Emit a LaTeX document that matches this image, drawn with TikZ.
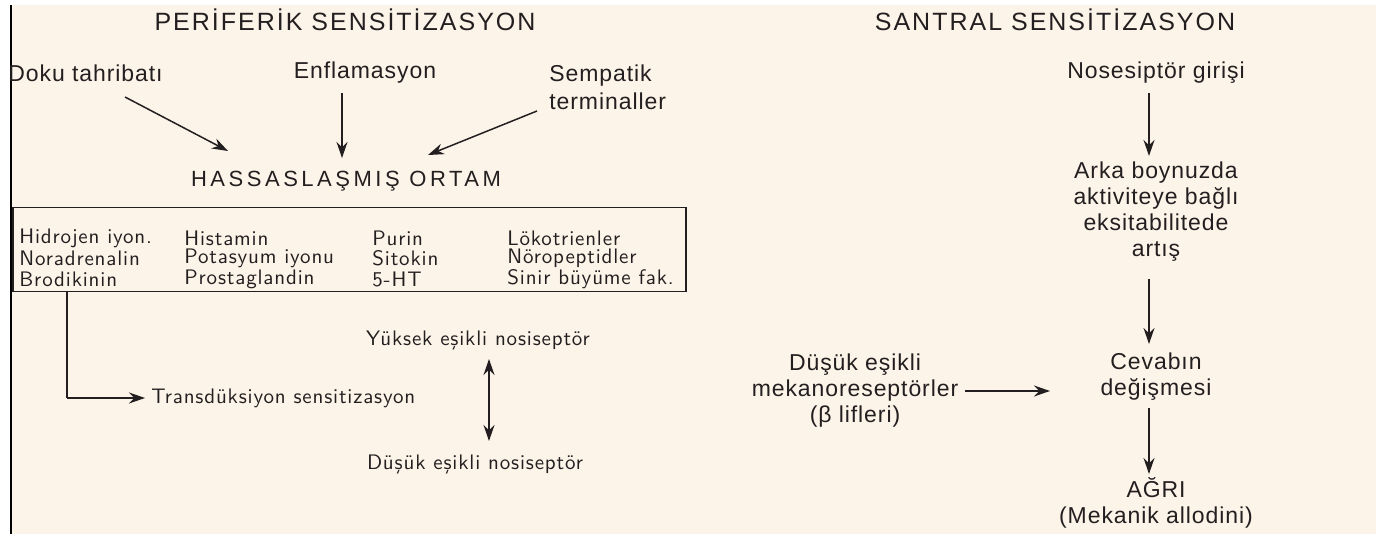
\documentclass[tikz,border=0pt]{standalone}
\usepackage{fontspec}
\usetikzlibrary{arrows.meta}
\setmainfont{Liberation Sans}
\newfontfamily\headfont[LetterSpace=8]{Liberation Sans}
\newfontfamily\hassfont[LetterSpace=16]{Liberation Sans}
\newfontfamily\txtfont[LetterSpace=4]{Liberation Sans}
\newfontfamily\smallfont[LetterSpace=4]{lmsans10-regular.otf}
\definecolor{cream}{RGB}{253,244,233}
\definecolor{ink}{RGB}{35,31,32}
\tikzset{
  head/.style={font=\headfont\fontsize{12.5}{14}\selectfont, text=ink, inner sep=0pt},
  hass/.style={font=\hassfont\fontsize{11}{13}\selectfont, text=ink, inner sep=0pt},
  lbl/.style={font=\txtfont\fontsize{11.5}{13}\selectfont, text=ink, inner sep=0pt, align=center},
  sm/.style={font=\smallfont\fontsize{10.5}{12}\selectfont, text=ink, inner sep=0pt, anchor=west},
  arr/.style={draw=ink, line width=0.75pt, -{Stealth[length=8pt,width=5.5pt]}},
  darr/.style={draw=ink, line width=0.75pt, {Stealth[length=8pt,width=5.5pt]}-{Stealth[length=8pt,width=5.5pt]}},
  ln/.style={draw=ink, line width=0.75pt}
}
\begin{document}
\begin{tikzpicture}[x=0.5pt,y=-0.5pt]
\useasboundingbox (0,0) rectangle (1376,534);
\fill[white] (0,0) rectangle (1376,534);
\fill[cream] (12,5) rectangle (1376,534);
\draw[black, line width=1pt] (11,5) -- (11,534);
% titles
\node[head] (t1) at (345,20) {PERİFERİK SENSİTİZASYON};
\node[head] (t2) at (1055,20) {SANTRAL SENSİTİZASYON};
% top left labels
\node[lbl, anchor=west] (doku) at (8,73) {Doku tahribatı};
\node[lbl] (enf) at (365,73) {Enflamasyon};
\node[lbl, align=left, anchor=north west] (semp) at (549,64) {Sempatik\\[1pt]terminaller};
\node[hass] (hass) at (346,181) {HASSASLAŞMIŞ ORTAM};
\coordinate (d1) at (125,97); \coordinate (d2) at (228,151);
\coordinate (e1) at (342,93); \coordinate (e2) at (342,158);
\coordinate (s1) at (537,111); \coordinate (s2) at (428,155);
\draw[arr] (d1) -- (d2);
\draw[arr] (e1) -- (e2);
\draw[arr] (s1) -- (s2);
% box
\node[draw=ink, line width=0.75pt, minimum width=673*0.5pt, minimum height=84*0.5pt, anchor=north west, inner sep=0pt] (box) at (12,207) {};
\node[sm] (c11) at (19,238) {Hidrojen iyon.};
\node[sm] (c12) at (19,258.5) {Noradrenalin};
\node[sm] (c13) at (19,279) {Brodikinin};
\node[sm] (c21) at (184,238) {Histamin};
\node[sm] (c22) at (184,258.5) {Potasyum iyonu};
\node[sm] (c23) at (184,279) {Prostaglandin};
\node[sm] (c31) at (372,238) {Purin};
\node[sm] (c32) at (372,258.5) {Sitokin};
\node[sm] (c33) at (372,279) {5-HT};
\node[sm] (c41) at (507,238) {Lökotrienler};
\node[sm] (c42) at (507,258.5) {Nöropeptidler};
\node[sm] (c43) at (507,279) {Sinir büyüme fak.};
% transduction
\node[sm] (trans) at (151,398) {Transdüksiyon sensitizasyon};
\coordinate (bx) at (67,291);
\coordinate (corner) at (67,398);
\draw[ln] (bx) -- (corner);
\draw[arr] (corner) -- ([xshift=-3pt]trans.west);
\node[sm, anchor=center] (yuk) at (478,340) {Yüksek eşikli nosiseptör};
\node[sm, anchor=center] (dus) at (475,464) {Düşük eşikli nosiseptör};
\coordinate (n1) at (489,359); \coordinate (n2) at (489,441);
\draw[darr] (n1) -- (n2);
% right side
\node[lbl] (nos) at (1156,73) {Nosesiptör girişi};
\node[lbl] (arka) at (1156,212) {Arka boynuzda\\aktiviteye bağlı\\eksitabilitede\\artış};
\node[lbl] (cev) at (1156,377) {Cevabın\\değişmesi};
\node[lbl] (mek) at (855,391) {Düşük eşikli\\mekanoreseptörler\\(β lifleri)};
\node[lbl] (agri) at (1156,503) {AĞRI\\(Mekanik allodini)};
\draw[arr] (1149,93) -- (1149,156);
\draw[arr] (1149,279) -- (1149,344);
\draw[arr] (1149,408) -- (1149,474);
\draw[arr] ([xshift=3pt]mek.east |- 0,391) -- (1050,391);
\end{tikzpicture}
\end{document}
